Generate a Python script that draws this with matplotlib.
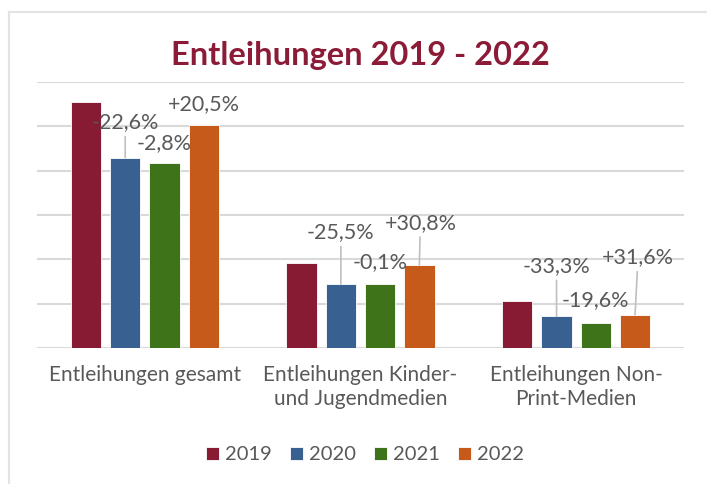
import numpy as np
import matplotlib.pyplot as plt
from matplotlib.lines import Line2D

# Daten
kategorien = ['Entleihungen gesamt', 'Entleihungen Kinder-\nund Jugendmedien',
              'Entleihungen Non-\nPrint-Medien']
jahre = ['2019', '2020', '2021', '2022']
werte_2019 = [555.0, 192.8, 107.0]
werte_2020 = [429.6, 143.6, 71.4]
werte_2021 = [417.6, 143.5, 57.4]
werte_2022 = [503.2, 187.7, 75.5]
labels_2020 = ['-22,6%', '-25,5%', '-33,3%']
labels_2021 = ['-2,8%', '-0,1%', '-19,6%']
labels_2022 = ['+20,5%', '+30,8%', '+31,6%']

farben = ['#861B33', '#386192', '#3F7319', '#C55A1B']
grau = '#595959'
plt.rcParams['font.family'] = ['Lato', 'DejaVu Sans']

fig = plt.figure(figsize=(7.07, 4.84), dpi=100)
ax = fig.add_axes([37/707, 1-348/484, 647/707, (348-82)/484])

x = np.arange(len(kategorien))
breite = 0.141
abstand = 0.182
serien = [werte_2019, werte_2020, werte_2021, werte_2022]
for i, werte in enumerate(serien):
    ax.bar(x + (i-1.5)*abstand, werte, breite, color=farben[i],
           edgecolor='white', linewidth=0.6, zorder=3, label=jahre[i])

# Datenbeschriftungen (dx, dy in Pixel, Fuehrungslinie ja/nein)
beschriftungen = [(1, werte_2020, labels_2020, [(0, 35, True), (0, 52, True), (0, 50, True)]),
                  (2, werte_2021, labels_2021, [(0, 20, False), (0, 22, False), (0, 22, False)]),
                  (3, werte_2022, labels_2022, [(0, 21, False), (1, 42, True), (3, 57, True)])]
for i, werte, texte, offs in beschriftungen:
    for k in range(len(kategorien)):
        dx, dy, linie = offs[k]
        props = None
        if linie:
            props = dict(arrowstyle='-', color='#bfbfbf', lw=1.2, shrinkA=1, shrinkB=0)
        ax.annotate(texte[k], xy=(x[k] + (i-1.5)*abstand, werte[k]),
                    xytext=(dx, dy), textcoords='offset pixels',
                    ha='center', va='center', fontsize=15.5, color=grau,
                    arrowprops=props, zorder=4)

ax.set_xlim(-0.5, 2.5)
ax.set_ylim(0, 600)
ax.set_yticks(np.arange(0, 601, 100))
ax.set_yticklabels([])
ax.yaxis.grid(True, color='#d9d9d9', lw=1.5, zorder=0)
ax.tick_params(axis='y', length=0)
ax.set_xticks(x)
ax.set_xticklabels(kategorien, fontsize=15, color=grau, linespacing=1.3)
ax.tick_params(axis='x', length=0, pad=12)
for s in ax.spines.values():
    s.set_visible(False)

fig.text(0.51, 1-64.5/484, 'Entleihungen 2019 - 2022', ha='center', va='baseline',
         fontsize=23.5, fontweight='bold', color='#8B1B36')

fig.legend(loc='center', bbox_to_anchor=(0.516, 1-455/484), ncol=4, frameon=False,
           fontsize=14.5, labelcolor=grau, handlelength=0.65, handleheight=0.65,
           handletextpad=0.3, columnspacing=0.9)

# Rahmen
fig.add_artist(Line2D([8.5/707, 8.5/707], [0, 1-12/484], color='#e3e3e3', lw=1.5))
fig.add_artist(Line2D([8.5/707, 1], [1-12/484, 1-12/484], color='#e3e3e3', lw=1.5))

fig.savefig('out.png', dpi=100)
